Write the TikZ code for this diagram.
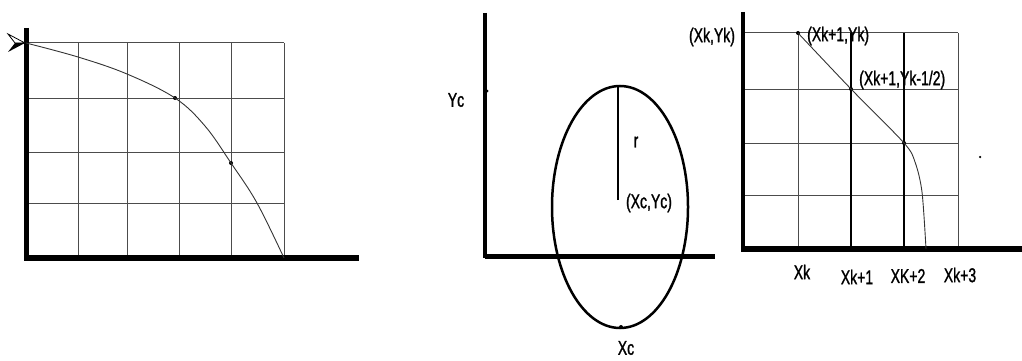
\documentclass[tikz,border=0pt]{standalone}
\usepackage{fontspec}
\setmainfont{Liberation Sans}[FakeStretch=0.7, FakeBold=1.2]
\usetikzlibrary{arrows.meta, positioning, calc}

\begin{document}
\begin{tikzpicture}[
    x=1pt, y=-1pt,
    every node/.style={font=\fontsize{20}{22}\selectfont, inner sep=1pt},
    axis/.style={line width=5pt},
    gridline/.style={line width=1pt, black!70},
    boldline/.style={line width=2pt, black},
    curve/.style={line width=0.9pt, black!80},
    dot/.style={circle, fill=black, inner sep=0pt, minimum size=4pt}
]
\useasboundingbox (0,0) rectangle (1022,361);

% ============ LEFT: curve on a grid ============
\draw[gridline] (78,43) -- (78,258);
\draw[gridline] (127,43) -- (127,258);
\draw[gridline] (179,43) -- (179,258);
\draw[gridline] (231,43) -- (231,258);
\draw[gridline] (284,43) -- (284,258);
\draw[gridline] (26,43) -- (284,43);
\draw[gridline] (26,98) -- (284,98);
\draw[gridline] (26,152) -- (284,152);
\draw[gridline] (26,203) -- (284,203);

\coordinate (ltop) at (26,28);
\coordinate (lorigin) at (26,258);
\coordinate (lend) at (359,258);
\draw[axis] (ltop) -- ([yshift=-2.5pt]lorigin);
\draw[axis, line width=6pt] (lorigin) -- (lend);

\node[dot] (p1) at (175,98) {};
\node[dot] (p2) at (231,163) {};
\draw[curve] plot[smooth, tension=0.6] coordinates
    {(26,43) (78,57) (127,74) (175,98) (205,126) (231,163) (257,203) (284,258)};

% start marker
\draw[line width=0.8pt, fill=white] (8,34) -- (25,43) -- (15,43) -- cycle;
\fill (15,43) -- (25,43) -- (8,52) -- cycle;

% ============ CENTER: circle about (Xc,Yc) ============
\coordinate (mtop) at (485,13);
\coordinate (morigin) at (485,256);
\coordinate (mend) at (715,256);
\draw[axis, line width=4.5pt] (mtop) -- ([yshift=-2.2pt]morigin);
\draw[axis] (morigin) -- (mend);

\draw[line width=2.5pt] (620,207) ellipse [x radius=68, y radius=121];
\coordinate (ctr) at (618,200);
\coordinate (rim) at (618,86);
\draw[boldline] (ctr) -- (rim);
\draw[line width=1.5pt] ([xshift=-4pt]rim) -- ([xshift=4pt]rim);

\node[dot, minimum size=3pt] (ycdot) at (487,91) {};
\node[dot, minimum size=4pt] (xcdot) at (621,327) {};
\node (yc) at (456,100) {Yc};
\node (rlabel) at (636,142) {r};
\node (center) at (649,203) {(Xc,Yc)};
\node (xc) at (626,348) {Xc};

% ============ RIGHT: midpoint steps ============
\draw[gridline] (743,33) -- (958,33);
\draw[gridline] (743,89) -- (958,89);
\draw[gridline] (743,143) -- (958,143);
\draw[gridline] (743,195) -- (958,195);
\draw[gridline] (798,33) -- (798,249);
\draw[boldline] (851,33) -- (851,249);
\draw[boldline] (904,33) -- (904,249);
\draw[gridline] (958,33) -- (958,249);

\coordinate (rtop) at (743,12);
\coordinate (rorigin) at (743,249);
\coordinate (rend) at (1022,249);
\draw[axis, line width=4pt] (rtop) -- ([yshift=-3pt]rorigin);
\draw[axis, line width=5.5pt] (rorigin) -- (rend);

\node[dot] (k0) at (798,33) {};
\node[dot] (k1) at (851,89) {};
\node[dot] (k2) at (904,143) {};
\draw[curve] plot[smooth, tension=0.5] coordinates
    {(798,33) (851,89) (904,143) (915,162) (922,192) (926,249)};
\node[dot, minimum size=2.5pt] (stray) at (980,157) {};

\node (xkyk) at (712,37) {(Xk,Yk)};
\node[anchor=west] (xk1yk) at (806,36) {(Xk+1,Yk)};
\node[anchor=west] (xk1half) at (858,80) {(Xk+1,Yk-1/2)};

\node (xk) at (802,272) {Xk};
\node (xk1) at (857,277) {Xk+1};
\node (xk2) at (908,276) {XK+2};
\node (xk3) at (960,275) {Xk+3};

\end{tikzpicture}
\end{document}
